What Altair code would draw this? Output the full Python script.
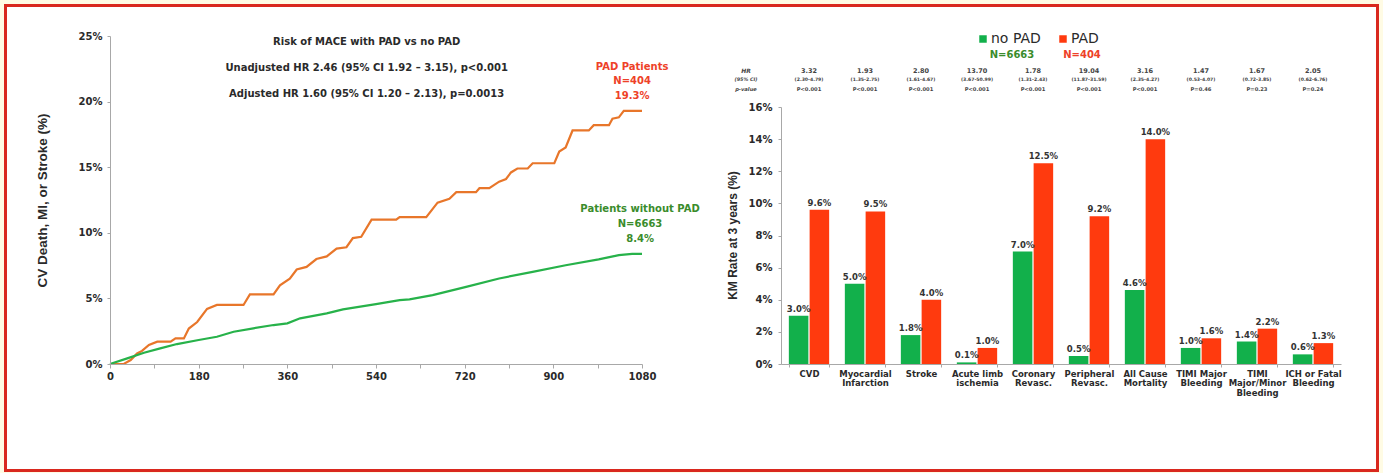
import altair as alt
import pandas as pd

FONT_H = "DejaVu Sans"
FONT_V = "Liberation Sans"

# ---------------- Left panel: KM curves (days, cumulative %) ----------------
pad_days = [0, 28, 42, 55, 65, 79, 96, 123, 133, 150, 160, 177, 197, 217, 271, 284, 332, 345,
            365, 379, 399, 419, 440, 460, 480, 493, 510, 531, 581, 588, 642, 665, 689, 703,
            743, 750, 770, 790, 804, 814, 827, 848, 858, 902, 912, 925, 939, 972, 982, 1013,
            1020, 1033, 1043, 1080]
pad_pct = [0, 0, 0.3, 0.8, 1.0, 1.45, 1.7, 1.7, 1.95, 1.95, 2.7, 3.2, 4.2, 4.5, 4.5, 5.3, 5.3, 6.0,
           6.5, 7.2, 7.4, 8.0, 8.2, 8.8, 8.9, 9.6, 9.7, 11.0, 11.0, 11.2, 11.2, 12.3, 12.6, 13.1,
           13.1, 13.4, 13.4, 13.9, 14.1, 14.6, 14.9, 14.9, 15.3, 15.3, 16.2, 16.5, 17.8, 17.8, 18.2, 18.2,
           18.7, 18.8, 19.3, 19.3]
nopad_days = [0, 35, 69, 102, 136, 180, 217, 251, 291, 332, 360, 386, 440, 473, 540, 588, 608,
              655, 723, 790, 858, 925, 992, 1033, 1060, 1080]
nopad_pct = [0, 0.43, 0.86, 1.19, 1.52, 1.83, 2.08, 2.46, 2.72, 2.97, 3.1, 3.48, 3.86, 4.16, 4.57,
             4.87, 4.92, 5.25, 5.88, 6.52, 7.02, 7.53, 7.97, 8.3, 8.4, 8.4]
km_groups = ["PAD Patients", "Patients without PAD"]
x_ticks_km = list(range(0, 1081, 90))
y_ticks_km = [0, 5, 10, 15, 20, 25]

# ---------------- Right panel: KM rate at 3 years ----------------
categories = ["CVD", "Myocardial\nInfarction", "Stroke", "Acute limb\nischemia", "Coronary\nRevasc.",
              "Peripheral\nRevasc.", "All Cause\nMortality", "TIMI Major\nBleeding",
              "TIMI\nMajor/Minor\nBleeding", "ICH or Fatal\nBleeding"]
groups = ["no PAD", "PAD"]
no_pad_rates = [3.0, 5.0, 1.8, 0.1, 7.0, 0.5, 4.6, 1.0, 1.4, 0.6]
pad_rates = [9.6, 9.5, 4.0, 1.0, 12.5, 9.2, 14.0, 1.6, 2.2, 1.3]
hr_vals = ["3.32", "1.93", "2.80", "13.70", "1.78", "19.04", "3.16", "1.47", "1.67", "2.05"]
hr_ci = ["(2.30-4.79)", "(1.35-2.75)", "(1.61-4.67)", "(3.67-50.99)", "(1.31-2.43)", "(11.87-31.59)",
         "(2.35-4.27)", "(0.53-4.07)", "(0.72-3.85)", "(0.62-6.76)"]
hr_p = ["P<0.001", "P<0.001", "P<0.001", "P<0.001", "P<0.001", "P<0.001", "P<0.001",
        "P=0.46", "P=0.23", "P=0.24"]
y_ticks_bar = [0, 2, 4, 6, 8, 10, 12, 14, 16]

ORANGE = "#E8762A"
GREEN_LINE = "#27B24A"
RED_TXT = "#EE4128"
GREEN_TXT = "#3A8C2C"
BAR_GREEN = "#12B04B"
BAR_RED = "#FF3A0E"
TXT = "#2A2A2A"
AX = "#A8A8A8"

km_df = pd.concat([
    pd.DataFrame({"day": pad_days, "pct": pad_pct, "group": km_groups[0]}),
    pd.DataFrame({"day": nopad_days, "pct": nopad_pct, "group": km_groups[1]}),
])
bar_df = pd.concat([
    pd.DataFrame({"category": categories, "group": groups[0], "value": no_pad_rates}),
    pd.DataFrame({"category": categories, "group": groups[1], "value": pad_rates}),
])
hr_df = pd.DataFrame({"category": categories, "hr": hr_vals, "ci": hr_ci, "p": hr_p})
one = pd.DataFrame({"k": [0]})

# ---- shared scales / axes, left ----
km_xscale = alt.Scale(domain=[0, 1080], range=[110, 642], nice=False, zero=False)
km_yscale = alt.Scale(domain=[0, 25], range=[364, 36], nice=False)
km_xaxis = alt.Axis(
    orient="bottom", offset=-109, values=x_ticks_km, format="d", zindex=2,
    labelExpr="datum.value % 180 === 0 ? datum.label : ''", title=None, grid=False,
    labelFont=FONT_H, labelFontSize=10, labelFontWeight="bold", labelColor=TXT,
    tickSize=4, labelPadding=3, domainColor=AX, tickColor=AX, labelOverlap=False, labelFlush=False)
km_yaxis = alt.Axis(
    orient="left", offset=-110, values=y_ticks_km, labelExpr="datum.value + '%'", grid=False, zindex=2,
    title="CV Death, MI, or Stroke (%)", titleFont=FONT_V, titleFontSize=13.5, titleFontWeight="bold",
    titleColor=TXT, titleX=-68, titleY=200, titleAngle=270, titleAlign="center", titleBaseline="middle",
    labelFont=FONT_H, labelFontSize=10, labelFontWeight="bold", labelColor=TXT,
    tickSize=3, labelPadding=5, domainColor=AX, tickColor=AX)

km_lines = alt.Chart(km_df).mark_line(strokeWidth=2.2).encode(
    x=alt.X("day:Q", scale=km_xscale, axis=km_xaxis),
    y=alt.Y("pct:Q", scale=km_yscale, axis=km_yaxis),
    color=alt.Color("group:N", scale=alt.Scale(domain=km_groups, range=[ORANGE, GREEN_LINE]), legend=None),
)


def km_text(lines, day, pct, color, lh):
    # (day, pct) anchors the centre of the first line; following lines go downward
    return alt.Chart(one).transform_calculate(day=str(day), pct=str(pct)).mark_text(
        text=lines, font=FONT_H, fontSize=10, fontWeight="bold", color=color,
        align="center", baseline="middle", lineHeight=lh,
    ).encode(x=alt.X("day:Q", scale=km_xscale, axis=km_xaxis),
             y=alt.Y("pct:Q", scale=km_yscale, axis=km_yaxis))


ann_top = km_text(["Risk of MACE with PAD vs no PAD",
                   "Unadjusted HR 2.46 (95% CI 1.92 \u2013 3.15), p<0.001",
                   "Adjusted HR 1.60 (95% CI 1.20 \u2013 2.13), p=0.0013"], 521, 24.54, TXT, 26)
ann_pad = km_text(["PAD Patients", "N=404", "19.3%"], 1060, 22.64, RED_TXT, 14.5)
ann_nopad = km_text(["Patients without PAD", "N=6663", "8.4%"], 1076, 11.81, GREEN_TXT, 15)

left = alt.layer(km_lines, ann_top, ann_pad, ann_nopad)

# ---- shared encodings, right ----
cat_scale = alt.Scale(domain=categories, range=[781, 1341], paddingInner=0.28, paddingOuter=0.14)
bar_yscale = alt.Scale(domain=[0, 16], range=[364, 107], nice=False)
cat_x = alt.X("category:N", sort=categories, scale=cat_scale, axis=alt.Axis(
    orient="bottom", offset=-109, title=None, labelAngle=0, labelExpr="split(datum.label, '\\n')",
    labelFont=FONT_H, labelFontSize=8.5, labelFontWeight="bold", labelColor=TXT, labelLineHeight=9.6,
    tickBand="extent", tickSize=3, labelPadding=2, domainColor=AX, tickColor=AX, grid=False, zindex=2))
bar_y = alt.Y("value:Q", scale=bar_yscale, axis=alt.Axis(
    orient="left", offset=-781, values=y_ticks_bar, labelExpr="datum.value + '%'", grid=False, zindex=2,
    title="KM Rate at 3 years (%)", titleFont=FONT_V, titleFontSize=12, titleFontWeight="bold",
    titleColor=TXT, titleX=-49, titleY=235, titleAngle=270, titleAlign="center", titleBaseline="middle",
    labelFont=FONT_H, labelFontSize=10, labelFontWeight="bold", labelColor=TXT,
    tickSize=3, labelPadding=6, domainColor=AX, tickColor=AX))
x_off = alt.XOffset("group:N", scale=alt.Scale(domain=groups, paddingInner=0.06))

bars = alt.Chart(bar_df).mark_bar().encode(
    x=cat_x, xOffset=x_off, y=bar_y,
    color=alt.Color("group:N", scale=alt.Scale(domain=groups, range=[BAR_GREEN, BAR_RED]),
                    legend=alt.Legend(orient="none", legendX=976, legendY=32, direction="horizontal",
                                      title=None, symbolType="square", symbolSize=56,
                                      symbolStrokeWidth=0, labelFont=FONT_H, labelFontSize=14,
                                      labelColor=TXT, columnPadding=15, labelOffset=1, padding=0)),
)
bar_labels = alt.Chart(bar_df).transform_calculate(
    lbl="format(datum.value, '.1f') + '%'"
).mark_text(font=FONT_H, fontSize=8.5, fontWeight="bold", color="#333333", baseline="bottom", dy=-2).encode(
    x=cat_x, xOffset=x_off, y=bar_y, text="lbl:N")


def hr_row(field, size, ypx):
    return alt.Chart(hr_df).mark_text(font=FONT_H, fontSize=size, fontWeight="bold", color="#444444").encode(
        x=cat_x, y=alt.value(ypx), text=f"{field}:N")


def head(txt, size, ypx):
    return alt.Chart(one).mark_text(text=txt, font=FONT_H, fontSize=size, fontStyle="italic",
                                    fontWeight="bold", color="#444444").encode(
        x=alt.value(746), y=alt.value(ypx))


def ntext(txt, color, xpx):
    return alt.Chart(one).mark_text(text=txt, font=FONT_H, fontSize=10, fontWeight="bold",
                                    color=color).encode(x=alt.value(xpx), y=alt.value(55))


right = alt.layer(
    bars, bar_labels,
    hr_row("hr", 6.5, 71), hr_row("ci", 4.6, 80), hr_row("p", 5.2, 88.5),
    head("HR", 6, 71), head("(95% CI)", 4.8, 80), head("p-value", 5.2, 88.5),
    ntext("N=6663", GREEN_TXT, 1012), ntext("N=404", RED_TXT, 1082),
)

frame = alt.Chart(one).mark_rect(fill="white", stroke="#D9281E", strokeWidth=3).encode(
    x=alt.value(5.5), x2=alt.value(1377.5), y=alt.value(5.5), y2=alt.value(470.5))

chart = alt.layer(frame, left, right).resolve_scale(
    x="independent", y="independent", color="independent"
).properties(
    width=1383, height=473, autosize=alt.AutoSizeParams(type="none"), padding=0
).configure(background="#FFFBE4").configure_view(strokeWidth=0)

chart.save("out.html", embed_options={"renderer": "svg", "actions": False})
